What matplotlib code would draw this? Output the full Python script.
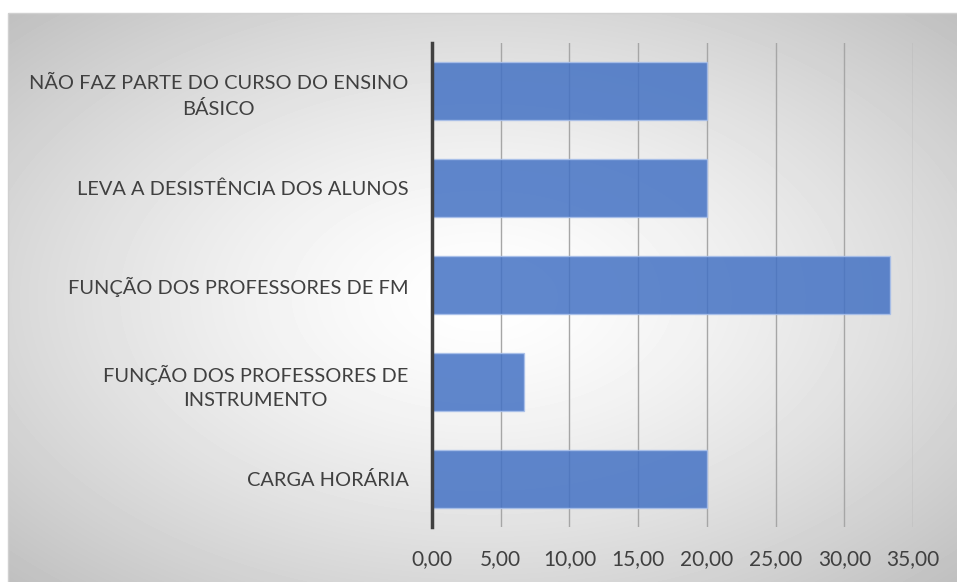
import numpy as np
import matplotlib.pyplot as plt
from matplotlib.patches import Rectangle

categories = ['CARGA HORÁRIA',
              'FUNÇÃO DOS PROFESSORES DE\nINSTRUMENTO',
              'FUNÇÃO DOS PROFESSORES DE FM',
              'LEVA A DESISTÊNCIA DOS ALUNOS',
              'NÃO FAZ PARTE DO CURSO DO ENSINO\nBÁSICO']
values = [20.0, 6.67, 33.33, 20.0, 20.0]
xticks = [0, 5, 10, 15, 20, 25, 30, 35]
xtick_labels = ['0,00', '5,00', '10,00', '15,00', '20,00', '25,00', '30,00', '35,00']

plt.rcParams['font.family'] = ['Lato', 'DejaVu Sans']

W, H = 957, 582
fig = plt.figure(figsize=(W / 100, H / 100), dpi=100)

# background: radial gradient chart area
bg = fig.add_axes([0, 0, 1, 1])
bg.set_xlim(0, W)
bg.set_ylim(H, 0)
bg.axis('off')
x0, y0 = 8, 13
xs, ys = np.meshgrid(np.arange(x0, W) + 0.5, np.arange(y0, H) + 0.5)
cx, cy = (x0 + W) / 2, (y0 + H) / 2
dx = (xs - cx) / ((W - x0) / 2)
dy = (ys - cy) / ((H - y0) / 2)
t = np.sqrt(dx ** 2 + dy ** 2) / np.sqrt(2)
shade = 1 - 0.25 * np.clip(t, 0, 1) ** 1.4
bg.imshow(shade, cmap='gray', vmin=0, vmax=1, extent=(x0, W, H, y0), aspect='auto')
bg.add_patch(Rectangle((x0, y0), W - x0 + 5, H - y0 + 5, fill=False, edgecolor='#d0d0d0', lw=1))

ax = fig.add_axes([432 / W, (H - 527) / H, (913 - 432) / W, (527 - 43) / H])
ax.set_facecolor('none')
ypos = np.arange(len(categories))
ax.barh(ypos, values, height=0.6, color='#4472C4', alpha=0.85,
        edgecolor='#a9c0ea', linewidth=1, zorder=3)

ax.set_xlim(0, 35)
ax.set_ylim(-0.5, len(categories) - 0.5)
ax.set_xticks(xticks)
ax.set_xticklabels(xtick_labels)
ax.set_yticks(ypos)
ax.set_yticklabels(categories)
for lbl in ax.get_yticklabels():
    lbl.set_multialignment('center')
    lbl.set_linespacing(1.5)

ax.grid(axis='x', color='#a6a6a6', linewidth=1, zorder=1)
ax.set_axisbelow(True)
for s in ['top', 'right', 'bottom']:
    ax.spines[s].set_visible(False)
ax.spines['left'].set_color('#404040')
ax.spines['left'].set_linewidth(2.5)
ax.spines['left'].set_zorder(4)
ax.tick_params(axis='both', length=0, colors='#404040')
ax.tick_params(axis='y', pad=17, labelsize=14.4)
ax.tick_params(axis='x', pad=16, labelsize=15)

fig.savefig('out.png', dpi=100)
